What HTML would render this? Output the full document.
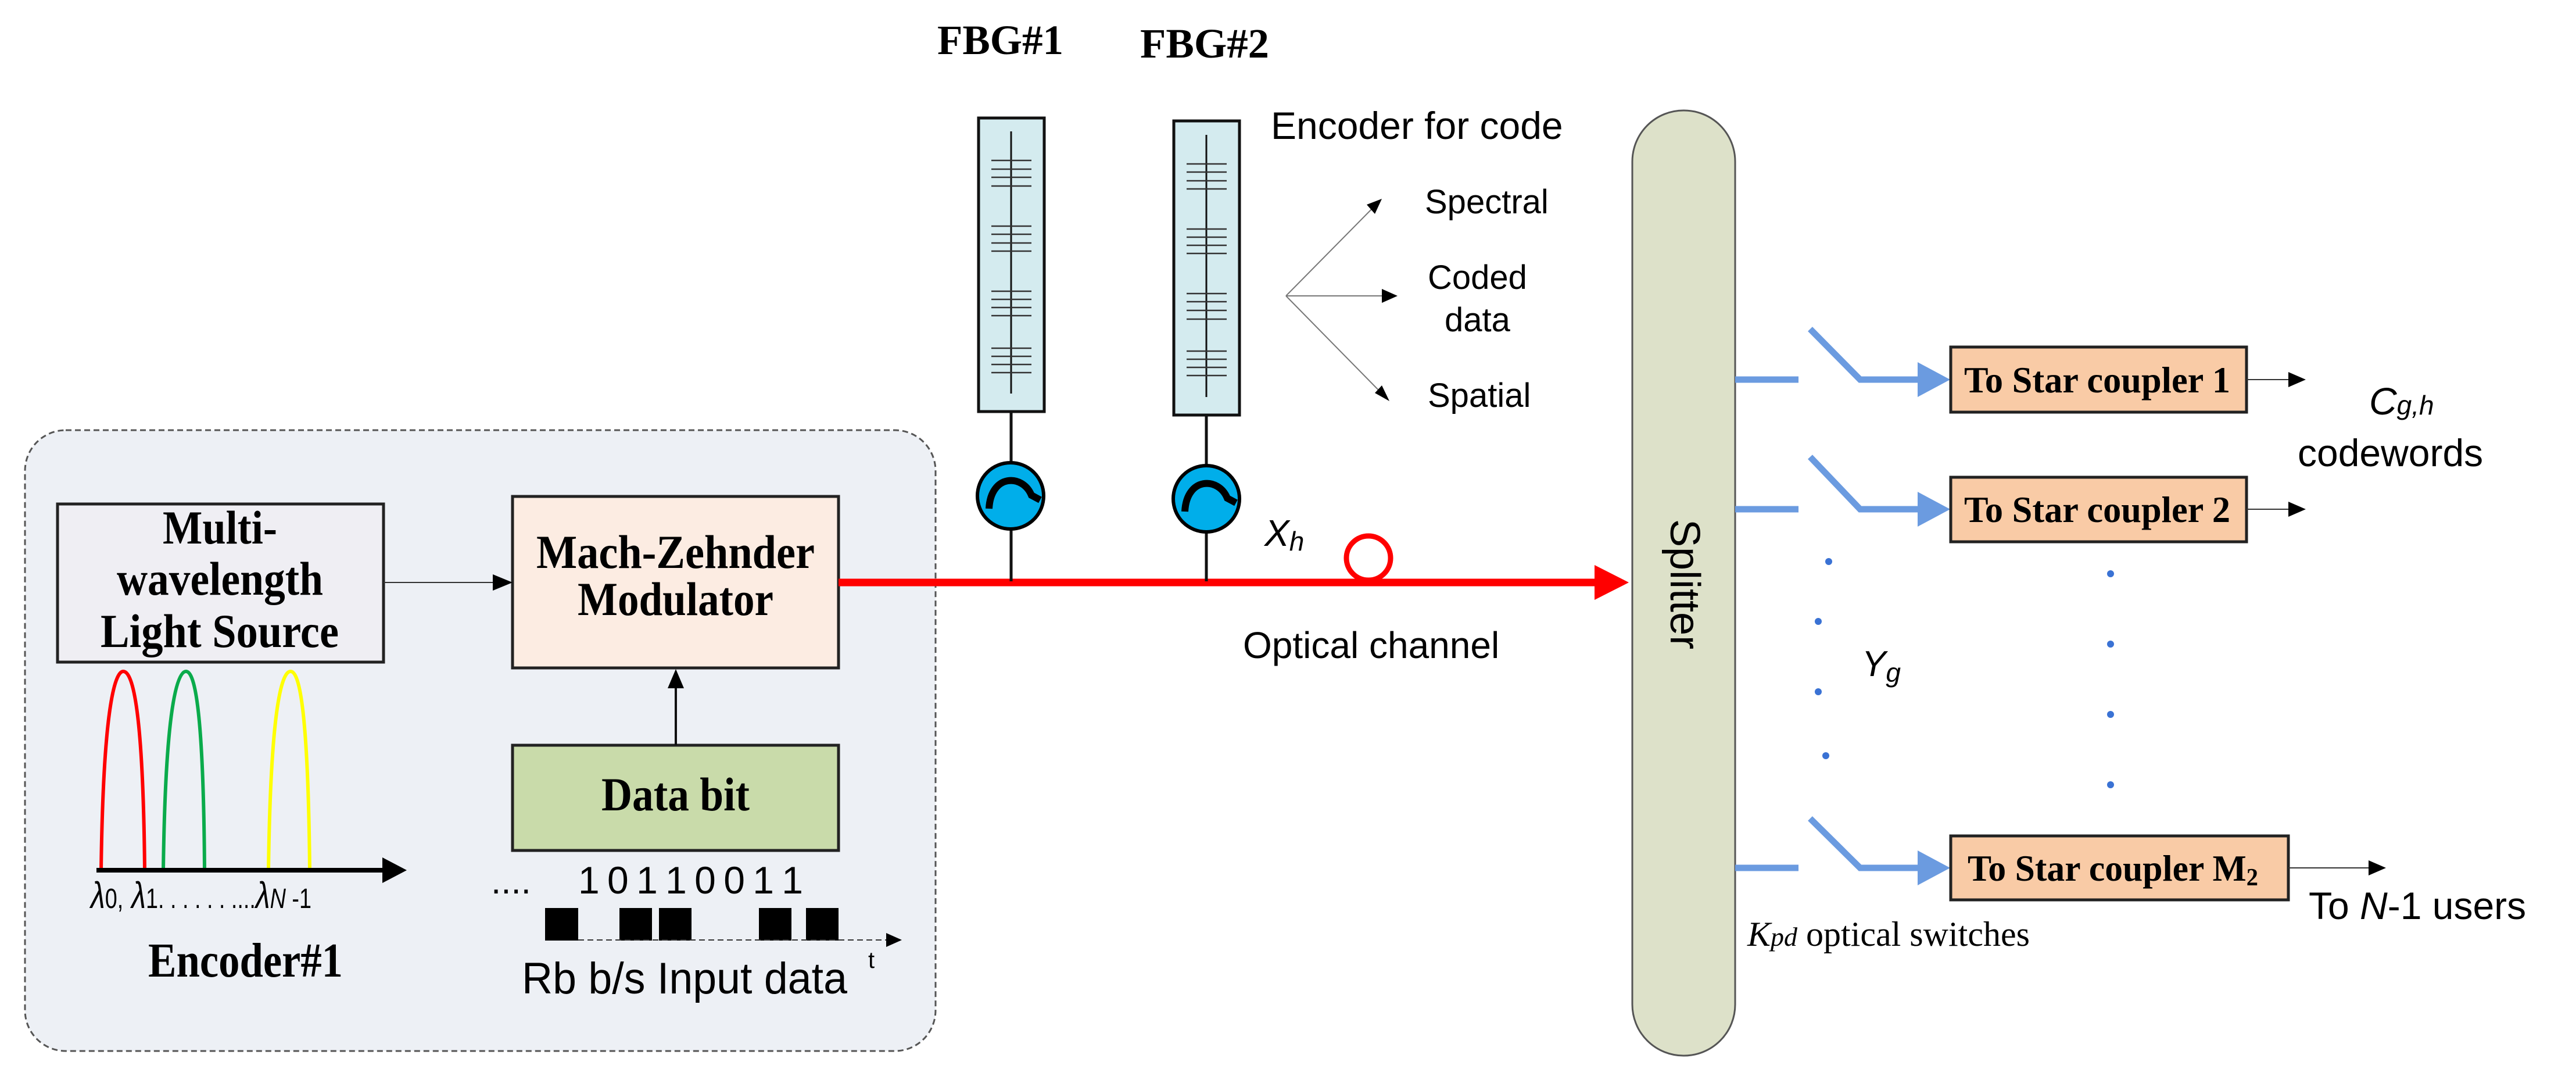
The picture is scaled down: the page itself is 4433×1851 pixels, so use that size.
<!DOCTYPE html>
<html><head><meta charset="utf-8"><style>
html,body{margin:0;padding:0;background:#fff;}
svg{display:block;}
.serif{font-family:"Liberation Serif",serif;font-weight:bold;}
.sans{font-family:"Liberation Sans",sans-serif;}
</style></head><body>
<svg width="4433" height="1851" viewBox="0 0 4433 1851" xmlns="http://www.w3.org/2000/svg">
<!-- encoder container -->
<rect x="43" y="740" width="1567" height="1068" rx="70" fill="#edf0f5" stroke="#555" stroke-width="3" stroke-dasharray="10,6"/>
<!-- multi box -->
<rect x="99" y="867" width="561" height="272" fill="#efeef3" stroke="#222" stroke-width="5"/>
<text class="serif" font-size="82" x="280" y="935" textLength="197" lengthAdjust="spacingAndGlyphs">Multi-</text>
<text class="serif" font-size="82" x="201" y="1023" textLength="355" lengthAdjust="spacingAndGlyphs">wavelength</text>
<text class="serif" font-size="82" x="173" y="1113" textLength="410" lengthAdjust="spacingAndGlyphs">Light Source</text>
<!-- MZM -->
<rect x="882" y="854" width="561" height="295" fill="#fcece2" stroke="#222" stroke-width="5"/>
<text class="serif" font-size="82" x="923" y="977" textLength="479" lengthAdjust="spacingAndGlyphs">Mach-Zehnder</text>
<text class="serif" font-size="82" x="994" y="1058" textLength="337" lengthAdjust="spacingAndGlyphs">Modulator</text>
<line x1="660" y1="1002" x2="880" y2="1002" stroke="#333" stroke-width="2"/>
<path d="M848,988 L882,1002 L848,1016 z" fill="#000"/>
<!-- data bit -->
<rect x="882" y="1282" width="561" height="181" fill="#c9dbaa" stroke="#222" stroke-width="5"/>
<text class="serif" font-size="82" x="1035" y="1394" textLength="255" lengthAdjust="spacingAndGlyphs">Data bit</text>
<line x1="1163" y1="1282" x2="1163" y2="1180" stroke="#111" stroke-width="4"/>
<path d="M1149,1184 L1163,1151 L1177,1184 z" fill="#000"/>
<!-- spectrum -->
<path d="M174,1497 C178,1200 200,1155 212,1155 C226,1155 246,1200 249,1497" fill="none" stroke="#f00" stroke-width="6"/>
<path d="M281,1497 C285,1200 307,1155 320,1155 C333,1155 350,1200 352,1497" fill="none" stroke="#0aab4b" stroke-width="6"/>
<path d="M462,1497 C466,1200 487,1155 500,1155 C513,1155 530,1200 533,1497" fill="none" stroke="#ff0" stroke-width="6"/>
<line x1="166" y1="1497" x2="665" y2="1497" stroke="#000" stroke-width="8"/>
<path d="M658,1475 L700,1497 L658,1519 z" fill="#000"/>
<text class="sans" font-size="64" x="156" y="1562" font-style="italic" textLength="380" lengthAdjust="spacingAndGlyphs">λ<tspan font-style="normal" font-size="48">0,</tspan> λ<tspan font-style="normal" font-size="48">1. . . . . . ....</tspan>λ<tspan font-size="48">N</tspan><tspan font-style="normal" font-size="48"> -1</tspan></text>
<text class="serif" font-size="84" x="255" y="1680" textLength="335" lengthAdjust="spacingAndGlyphs">Encoder#1</text>
<!-- data pulses -->
<text class="sans" font-size="62" x="845" y="1537">....</text>
<text class="sans" font-size="66" x="995" y="1537" textLength="387" lengthAdjust="spacing">1 0 1 1 0 0 1 1</text>
<g fill="#000">
<rect x="938" y="1562" width="57" height="56"/><rect x="1066" y="1562" width="56" height="56"/>
<rect x="1134" y="1562" width="56" height="56"/><rect x="1306" y="1562" width="56" height="56"/>
<rect x="1387" y="1562" width="56" height="56"/></g>
<line x1="995" y1="1617" x2="1530" y2="1617" stroke="#333" stroke-width="2" stroke-dasharray="10,6"/>
<path d="M1525,1605 L1552,1617 L1525,1629 z" fill="#000"/>
<text class="sans" font-size="40" x="1494" y="1665">t</text>
<text class="sans" font-size="76" x="898" y="1709" textLength="560" lengthAdjust="spacingAndGlyphs">Rb b/s Input data</text>
<!-- red channel -->
<line x1="1443" y1="1002" x2="2750" y2="1002" stroke="#f00" stroke-width="13"/>
<path d="M2744,972 L2803,1002 L2744,1032 z" fill="#f00"/>
<circle cx="2355" cy="960" r="38" fill="none" stroke="#f00" stroke-width="9"/>
<!-- FBG -->
<text class="serif" font-size="72" x="1613" y="93" textLength="217" lengthAdjust="spacingAndGlyphs">FBG#1</text>
<text class="serif" font-size="72" x="1962" y="99" textLength="222" lengthAdjust="spacingAndGlyphs">FBG#2</text>
<rect x="1684" y="203" width="113" height="505" fill="#d4ebef" stroke="#111" stroke-width="5"/>
<rect x="2020" y="208" width="113" height="506" fill="#d4ebef" stroke="#111" stroke-width="5"/>
<line x1="1740" y1="226" x2="1740" y2="677" stroke="#111" stroke-width="3"/>
<line x1="2076" y1="232" x2="2076" y2="683" stroke="#111" stroke-width="3"/>
<g stroke="#333" stroke-width="2.5">
<path d="M1706,276h69M1706,291h69M1706,305h69M1706,320h69 M1706,389h69M1706,403h69M1706,418h69M1706,432h69 M1706,501h69M1706,515h69M1706,529h69M1706,543h69 M1706,599h69M1706,613h69M1706,627h69M1706,641h69"/>
<path d="M2042,282h69M2042,296h69M2042,311h69M2042,325h69 M2042,394h69M2042,408h69M2042,422h69M2042,436h69 M2042,505h69M2042,519h69M2042,534h69M2042,549h69 M2042,604h69M2042,618h69M2042,632h69M2042,646h69"/>
</g>
<line x1="1740" y1="708" x2="1740" y2="1000" stroke="#111" stroke-width="5"/>
<line x1="2076" y1="714" x2="2076" y2="1000" stroke="#111" stroke-width="5"/>
<g stroke="#000" stroke-width="6" fill="#00aeea">
<circle cx="1739" cy="853" r="57"/><circle cx="2076" cy="858" r="57"/></g>
<g fill="none" stroke="#000" stroke-width="12">
<path d="M1702,875 C1705,815 1760,815 1775,852 L1790,860"/>
<path d="M2039,880 C2042,820 2097,820 2112,857 L2127,865"/></g>
<text class="sans" font-size="64" font-style="italic" x="2176" y="939">X<tspan font-size="46" dy="8">h</tspan></text>
<text class="sans" font-size="64" x="2139" y="1132">Optical channel</text>
<!-- encoder for code -->
<text class="sans" font-size="66" x="2187" y="239">Encoder for code</text>
<g stroke="#777" stroke-width="2" fill="none">
<line x1="2213" y1="509" x2="2370" y2="350"/><line x1="2213" y1="509" x2="2398" y2="509"/><line x1="2213" y1="509" x2="2384" y2="683"/></g>
<path d="M2352,352 L2378,342 L2366,368 z" fill="#000"/>
<path d="M2378,497 L2405,509 L2378,521 z" fill="#000"/>
<path d="M2366,676 L2391,690 L2378,663 z" fill="#000"/>
<text class="sans" font-size="58" x="2452" y="367">Spectral</text>
<text class="sans" font-size="58" x="2457" y="497">Coded</text>
<text class="sans" font-size="58" x="2486" y="570">data</text>
<text class="sans" font-size="58" x="2457" y="700">Spatial</text>
<!-- splitter -->
<rect x="2809" y="190" width="177" height="1626" rx="88" fill="#dde1c9" stroke="#555" stroke-width="3"/>
<text class="sans" font-size="72" transform="translate(2875,1005) rotate(90)" text-anchor="middle">Splitter</text>
<!-- switches -->
<g stroke="#6b9be0" stroke-width="11" fill="none">
<path d="M2986,653h109 M3115,566 L3201,653 H3320"/>
<path d="M2986,876h109 M3115,786 L3201,876 H3320"/>
<path d="M2986,1493h109 M3115,1408 L3201,1493 H3320"/>
</g>
<g fill="#6b9be0">
<path d="M3300,623 L3356,653 L3300,683 z"/><path d="M3300,846 L3356,876 L3300,906 z"/><path d="M3300,1463 L3356,1493 L3300,1523 z"/></g>
<g fill="#3a72d4">
<circle cx="3147" cy="966" r="6"/><circle cx="3129" cy="1069" r="6"/><circle cx="3129" cy="1190" r="6"/><circle cx="3142" cy="1300" r="6"/>
<circle cx="3632" cy="987" r="6"/><circle cx="3632" cy="1108" r="6"/><circle cx="3632" cy="1229" r="6"/><circle cx="3632" cy="1350" r="6"/></g>
<text class="sans" font-size="62" font-style="italic" x="3204" y="1163">Y<tspan font-size="46" dy="10">g</tspan></text>
<!-- star coupler boxes -->
<g fill="#f9cba6" stroke="#222" stroke-width="5">
<rect x="3357" y="597" width="509" height="112"/><rect x="3357" y="821" width="509" height="111"/><rect x="3357" y="1438" width="581" height="110"/></g>
<text class="serif" font-size="64" x="3380" y="675" textLength="458" lengthAdjust="spacingAndGlyphs">To Star coupler 1</text>
<text class="serif" font-size="64" x="3380" y="898" textLength="458" lengthAdjust="spacingAndGlyphs">To Star coupler 2</text>
<text class="serif" font-size="64" x="3386" y="1515" textLength="500" lengthAdjust="spacingAndGlyphs">To Star coupler M<tspan font-size="42" dy="8">2</tspan></text>
<g stroke="#333" stroke-width="2">
<line x1="3866" y1="653" x2="3945" y2="653"/><line x1="3866" y1="876" x2="3945" y2="876"/><line x1="3938" y1="1493" x2="4080" y2="1493"/></g>
<path d="M3938,640 L3968,653 L3938,666 z" fill="#000"/>
<path d="M3938,863 L3968,876 L3938,889 z" fill="#000"/>
<path d="M4076,1480 L4106,1493 L4076,1506 z" fill="#000"/>
<text class="sans" font-size="66" font-style="italic" x="4077" y="713">C<tspan font-size="46">g,h</tspan></text>
<text class="sans" font-size="66" x="3954" y="802">codewords</text>
<text class="sans" font-size="66" x="3973" y="1581">To <tspan font-style="italic">N</tspan>-1 users</text>
<text font-family="Liberation Serif, serif" font-size="60" x="3007" y="1627"><tspan font-style="italic">K<tspan font-size="46">pd</tspan></tspan> optical switches</text>
</svg>
</body></html>
